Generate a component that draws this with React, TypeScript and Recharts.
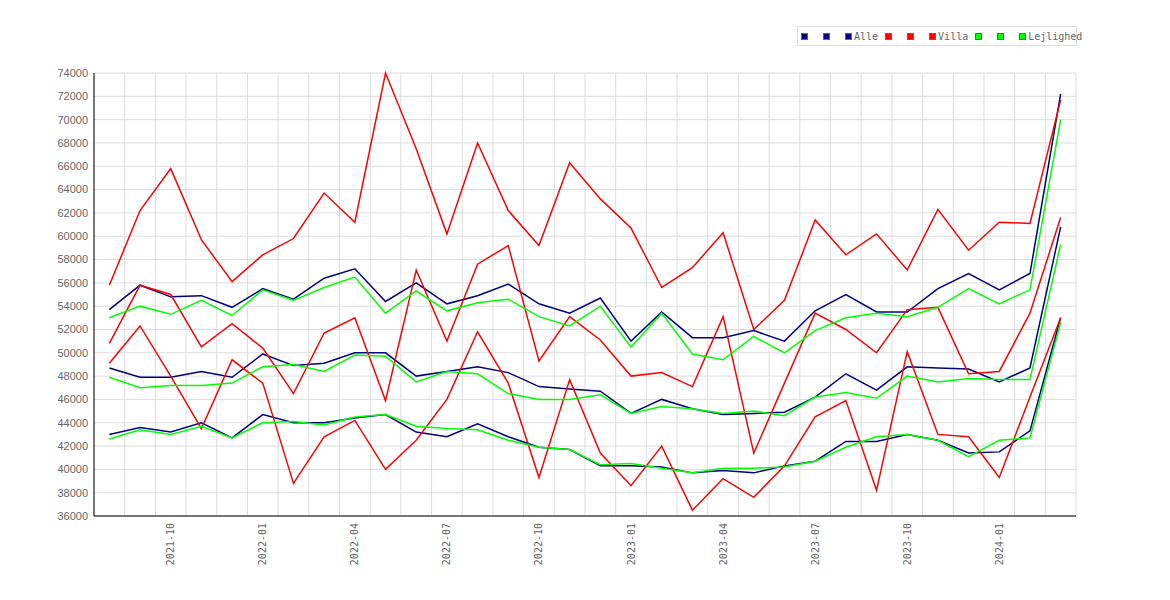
import React from "react";
import { LineChart, Line, XAxis, YAxis, CartesianGrid } from "recharts";

const months = [
  "2021-08", "2021-09", "2021-10", "2021-11", "2021-12", "2022-01", "2022-02", "2022-03",
  "2022-04", "2022-05", "2022-06", "2022-07", "2022-08", "2022-09", "2022-10", "2022-11",
  "2022-12", "2023-01", "2023-02", "2023-03", "2023-04", "2023-05", "2023-06", "2023-07",
  "2023-08", "2023-09", "2023-10", "2023-11", "2023-12", "2024-01", "2024-02", "2024-03",
];

const xTicks = [
  "2021-10", "2022-01", "2022-04", "2022-07", "2022-10",
  "2023-01", "2023-04", "2023-07", "2023-10", "2024-01",
];

const yTicks = [
  36000, 38000, 40000, 42000, 44000, 46000, 48000, 50000, 52000, 54000,
  56000, 58000, 60000, 62000, 64000, 66000, 68000, 70000, 72000, 74000,
];

const alle1 = [53700, 55800, 54800, 54900, 53900, 55500, 54600, 56400, 57200, 54400, 56000, 54200, 54900, 55900, 54200, 53400, 54700, 51000, 53500, 51300, 51300, 51900, 51000, 53600, 55000, 53500, 53500, 55500, 56800, 55400, 56800, 72200];
const alle2 = [48700, 47900, 47900, 48400, 47900, 49900, 48900, 49100, 50000, 50000, 48000, 48400, 48800, 48300, 47100, 46900, 46700, 44800, 46000, 45200, 44700, 44800, 44900, 46200, 48200, 46800, 48800, 48700, 48600, 47500, 48700, 60800];
const alle3 = [43000, 43600, 43200, 44000, 42700, 44700, 44000, 44000, 44400, 44700, 43200, 42800, 43900, 42800, 41900, 41700, 40300, 40300, 40200, 39700, 39900, 39700, 40300, 40700, 42400, 42400, 43000, 42500, 41400, 41500, 43300, 53000];

const villa1 = [55800, 62200, 65800, 59700, 56100, 58400, 59800, 63700, 61200, 74000, 67500, 60200, 68000, 62200, 59200, 66300, 63200, 60700, 55600, 57300, 60300, 52000, 54500, 61400, 58400, 60200, 57100, 62300, 58800, 61200, 61100, 71700];
const villa2 = [50800, 55800, 55000, 50500, 52500, 50400, 46500, 51700, 53000, 45900, 57100, 51000, 57600, 59200, 49300, 53100, 51100, 48000, 48300, 47100, 53100, 41400, 47400, 53400, 52000, 50000, 53700, 53900, 48200, 48400, 53400, 61600];
const villa3 = [49100, 52300, 48000, 43500, 49400, 47400, 38800, 42800, 44200, 40000, 42500, 46000, 51800, 47400, 39300, 47700, 41400, 38600, 42000, 36500, 39200, 37600, 40300, 44500, 45900, 38200, 50100, 43000, 42800, 39300, 46200, 53000];

const lejl1 = [53000, 54000, 53300, 54500, 53200, 55400, 54500, 55600, 56500, 53400, 55300, 53600, 54300, 54600, 53100, 52300, 54000, 50500, 53400, 49900, 49400, 51400, 50000, 51900, 53000, 53400, 53100, 53900, 55500, 54200, 55400, 70000];
const lejl2 = [47900, 47000, 47200, 47200, 47400, 48800, 49000, 48400, 49800, 49700, 47500, 48400, 48200, 46500, 46000, 46000, 46400, 44800, 45400, 45200, 44800, 45000, 44600, 46200, 46600, 46100, 48000, 47500, 47800, 47700, 47700, 59300];
const lejl3 = [42600, 43400, 43000, 43700, 42700, 44000, 44100, 43800, 44500, 44700, 43700, 43500, 43400, 42500, 41900, 41700, 40400, 40500, 40100, 39700, 40100, 40100, 40200, 40700, 41900, 42800, 43000, 42500, 41100, 42500, 42700, 52600];

const groups = [
  { name: "Alle", color: "#000080", keys: ["alle1", "alle2", "alle3"] },
  { name: "Villa", color: "#ff0000", keys: ["villa1", "villa2", "villa3"] },
  { name: "Lejlighed", color: "#00ff00", keys: ["lejl1", "lejl2", "lejl3"] },
];

const data = months.map((month, i) => ({
  month,
  idx: i,
  alle1: alle1[i], alle2: alle2[i], alle3: alle3[i],
  villa1: villa1[i], villa2: villa2[i], villa3: villa3[i],
  lejl1: lejl1[i], lejl2: lejl2[i], lejl3: lejl3[i],
}));

// grid lines sit on the month boundaries, not on the points
const gridTicks = months.map((_, i) => i).concat(months.length);

const mono = "'DejaVu Sans Mono', monospace";

function MonthTick({ x, y, payload }: any) {
  return (
    <g transform={`translate(${x},${y})`}>
      <text transform="rotate(-90)" textAnchor="end" dy="0.35em" fill="#666" fontSize={10} fontFamily={mono}>
        {payload.value}
      </text>
    </g>
  );
}

function ChartLegend() {
  return (
    <div
      style={{
        position: "absolute", left: 789, top: 18, width: 280, height: 20,
        border: "1px solid #ddd", boxSizing: "border-box",
        display: "flex", alignItems: "center", paddingLeft: 3,
        fontFamily: mono, fontSize: 10, color: "#666", whiteSpace: "nowrap",
      }}
    >
      {groups.map((g) => (
        <div key={g.name} style={{ display: "flex", alignItems: "center", marginRight: 7 }}>
          {g.keys.map((k, j) => (
            <span
              key={k}
              style={{
                display: "inline-block", width: 7, height: 7, boxSizing: "border-box",
                background: g.color, border: "1px solid #666",
                marginRight: j < 2 ? 15 : 2,
              }}
            />
          ))}
          <span>{g.name}</span>
        </div>
      ))}
    </div>
  );
}

export default function App() {
  return (
    <div style={{ position: "relative", width: 1154, height: 584 }}>
      <LineChart width={1154} height={584} data={data} margin={{ top: 65, right: 86, left: 0, bottom: 0 }}>
        <XAxis xAxisId="grid" type="number" dataKey="idx" domain={[0, months.length]} ticks={gridTicks} hide />
        <CartesianGrid xAxisId="grid" stroke="#ddd" strokeWidth={1} />
        <XAxis
          dataKey="month" scale="band" ticks={xTicks} interval={0} height={76}
          tickLine={false} tickSize={0} tickMargin={7}
          axisLine={{ stroke: "#000" }} tick={<MonthTick />}
        />
        <YAxis
          domain={[36000, 74000]} ticks={yTicks} width={86} interval={0}
          tickLine={false} tickSize={4} tickMargin={2}
          axisLine={{ stroke: "#000" }}
          tick={{ fill: "#666", fontSize: 11, fontFamily: "'Liberation Sans', Arial, sans-serif" }}
        />
        {groups.map((g) =>
          g.keys.map((k) => (
            <Line
              key={k} type="linear" dataKey={k} stroke={g.color} strokeWidth={1.5}
              dot={false} isAnimationActive={false} legendType="none"
            />
          ))
        )}
      </LineChart>
      <ChartLegend />
    </div>
  );
}
